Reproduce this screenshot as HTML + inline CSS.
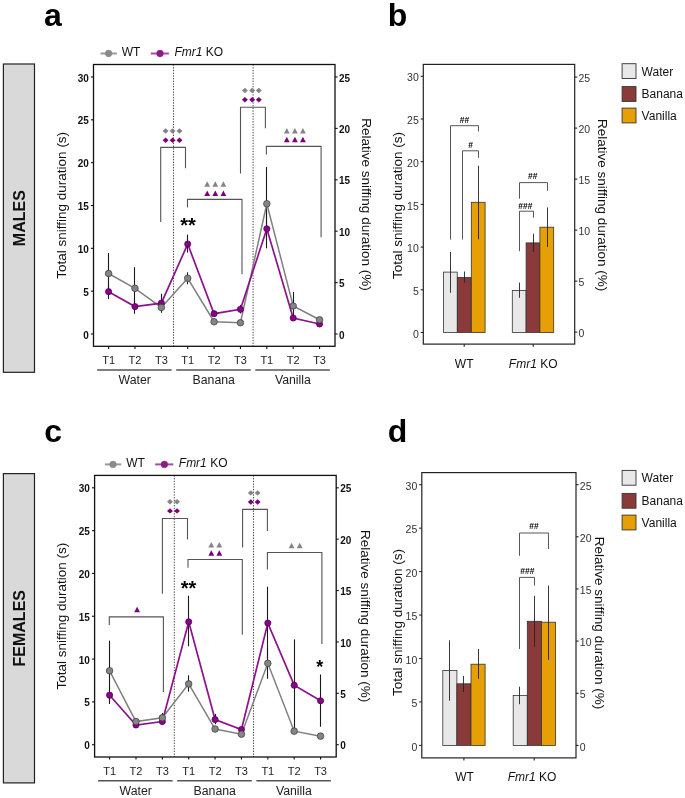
<!DOCTYPE html>
<html><head><meta charset="utf-8"><style>
html,body{margin:0;padding:0;background:#fff;}
body{width:685px;height:798px;overflow:hidden;}
svg{display:block;font-family:"Liberation Sans", sans-serif;will-change:transform;}
</style></head><body>
<svg width="685" height="798" viewBox="0 0 685 798" font-family='"Liberation Sans", sans-serif'>
<rect width="685" height="798" fill="#fff"/>
<rect x="3.40" y="64.00" width="31.10" height="308.30" fill="#d9d9d9" stroke="#222" stroke-width="1.2"/>
<text x="0" y="0" transform="translate(25.1,218.15) rotate(-90)" font-size="16" font-weight="bold" text-anchor="middle" fill="#111">MALES</text>
<rect x="3.40" y="473.60" width="31.10" height="309.30" fill="#d9d9d9" stroke="#222" stroke-width="1.2"/>
<text x="0" y="0" transform="translate(25.1,628.25) rotate(-90)" font-size="16" font-weight="bold" text-anchor="middle" fill="#111">FEMALES</text>
<text x="43.90" y="26.20" font-size="32" text-anchor="start" font-weight="bold" font-style="normal" fill="#000" >a</text>
<text x="387.80" y="26.00" font-size="32" text-anchor="start" font-weight="bold" font-style="normal" fill="#000" >b</text>
<text x="44.20" y="441.70" font-size="32" text-anchor="start" font-weight="bold" font-style="normal" fill="#000" >c</text>
<text x="387.70" y="441.70" font-size="32" text-anchor="start" font-weight="bold" font-style="normal" fill="#000" >d</text>
<line x1="173.50" y1="64.50" x2="173.50" y2="346.30" stroke="#444" stroke-width="1" stroke-dasharray="1.3 1.4"/>
<line x1="253.10" y1="64.50" x2="253.10" y2="346.30" stroke="#444" stroke-width="1" stroke-dasharray="1.3 1.4"/>
<path d="M160.70 222.00V147.40H185.50V168.30" fill="none" stroke="#555" stroke-width="1.1"/>
<path d="M165.60 128.30L168.57 131.00L165.60 133.70L162.63 131.00Z" fill="#858585"/>
<path d="M172.60 128.30L175.57 131.00L172.60 133.70L169.63 131.00Z" fill="#858585"/>
<path d="M179.50 128.30L182.47 131.00L179.50 133.70L176.53 131.00Z" fill="#858585"/>
<path d="M165.60 137.60L168.57 140.30L165.60 143.00L162.63 140.30Z" fill="#7a007a"/>
<path d="M172.60 137.60L175.57 140.30L172.60 143.00L169.63 140.30Z" fill="#7a007a"/>
<path d="M179.50 137.60L182.47 140.30L179.50 143.00L176.53 140.30Z" fill="#7a007a"/>
<path d="M240.50 173.40V107.30H265.40V128.20" fill="none" stroke="#555" stroke-width="1.1"/>
<path d="M244.90 87.80L247.87 90.50L244.90 93.20L241.93 90.50Z" fill="#858585"/>
<path d="M252.20 87.80L255.17 90.50L252.20 93.20L249.23 90.50Z" fill="#858585"/>
<path d="M258.80 87.80L261.77 90.50L258.80 93.20L255.83 90.50Z" fill="#858585"/>
<path d="M244.90 97.00L247.87 99.70L244.90 102.40L241.93 99.70Z" fill="#7a007a"/>
<path d="M252.20 97.00L255.17 99.70L252.20 102.40L249.23 99.70Z" fill="#7a007a"/>
<path d="M258.80 97.00L261.77 99.70L258.80 102.40L255.83 99.70Z" fill="#7a007a"/>
<path d="M187.50 207.40V199.40H242.00V274.20" fill="none" stroke="#555" stroke-width="1.1"/>
<path d="M207.20 181.35L210.10 186.85L204.30 186.85Z" fill="#858585"/>
<path d="M215.30 181.35L218.20 186.85L212.40 186.85Z" fill="#858585"/>
<path d="M223.40 181.35L226.30 186.85L220.50 186.85Z" fill="#858585"/>
<path d="M207.20 190.55L210.10 196.05L204.30 196.05Z" fill="#7a007a"/>
<path d="M215.30 190.55L218.20 196.05L212.40 196.05Z" fill="#7a007a"/>
<path d="M223.40 190.55L226.30 196.05L220.50 196.05Z" fill="#7a007a"/>
<path d="M266.40 154.50V146.40H321.10V237.20" fill="none" stroke="#555" stroke-width="1.1"/>
<path d="M286.80 128.05L289.70 133.55L283.90 133.55Z" fill="#858585"/>
<path d="M294.90 128.05L297.80 133.55L292.00 133.55Z" fill="#858585"/>
<path d="M302.90 128.05L305.80 133.55L300.00 133.55Z" fill="#858585"/>
<path d="M286.80 136.85L289.70 142.35L283.90 142.35Z" fill="#7a007a"/>
<path d="M294.90 136.85L297.80 142.35L292.00 142.35Z" fill="#7a007a"/>
<path d="M302.90 136.85L305.80 142.35L300.00 142.35Z" fill="#7a007a"/>
<line x1="108.50" y1="292.88" x2="108.50" y2="253.04" stroke="#1a1a1a" stroke-width="1.1" />
<line x1="134.50" y1="309.16" x2="134.50" y2="267.18" stroke="#1a1a1a" stroke-width="1.1" />
<line x1="161.50" y1="312.58" x2="161.50" y2="302.30" stroke="#1a1a1a" stroke-width="1.1" />
<line x1="187.50" y1="284.31" x2="187.50" y2="272.32" stroke="#1a1a1a" stroke-width="1.1" />
<line x1="266.50" y1="239.76" x2="266.50" y2="166.94" stroke="#1a1a1a" stroke-width="1.1" />
<line x1="293.50" y1="318.58" x2="293.50" y2="292.02" stroke="#1a1a1a" stroke-width="1.1" />
<line x1="108.50" y1="299.13" x2="108.50" y2="284.31" stroke="#1a1a1a" stroke-width="1.1" />
<line x1="134.50" y1="313.78" x2="134.50" y2="299.73" stroke="#1a1a1a" stroke-width="1.1" />
<line x1="161.50" y1="312.58" x2="161.50" y2="293.74" stroke="#1a1a1a" stroke-width="1.1" />
<line x1="187.50" y1="252.61" x2="187.50" y2="234.62" stroke="#1a1a1a" stroke-width="1.1" />
<line x1="240.50" y1="313.44" x2="240.50" y2="304.87" stroke="#1a1a1a" stroke-width="1.1" />
<line x1="266.50" y1="248.33" x2="266.50" y2="209.78" stroke="#1a1a1a" stroke-width="1.1" />
<polyline points="108.60,273.52 134.97,288.34 161.34,307.44 187.71,278.31 214.08,321.75 240.45,322.78 266.82,203.78 293.19,305.99 319.56,319.78" fill="none" stroke="#808080" stroke-width="1.5"/>
<polyline points="108.60,291.68 134.97,306.59 161.34,303.16 187.71,244.05 214.08,313.70 240.45,309.33 266.82,228.80 293.19,317.98 319.56,323.98" fill="none" stroke="#8e128e" stroke-width="1.7"/>
<circle cx="108.60" cy="291.68" r="3.1" fill="#8a008a" stroke="#4a004a" stroke-width="0.7"/>
<circle cx="134.97" cy="306.59" r="3.1" fill="#8a008a" stroke="#4a004a" stroke-width="0.7"/>
<circle cx="161.34" cy="303.16" r="3.1" fill="#8a008a" stroke="#4a004a" stroke-width="0.7"/>
<circle cx="187.71" cy="244.05" r="3.1" fill="#8a008a" stroke="#4a004a" stroke-width="0.7"/>
<circle cx="214.08" cy="313.70" r="3.1" fill="#8a008a" stroke="#4a004a" stroke-width="0.7"/>
<circle cx="240.45" cy="309.33" r="3.1" fill="#8a008a" stroke="#4a004a" stroke-width="0.7"/>
<circle cx="266.82" cy="228.80" r="3.1" fill="#8a008a" stroke="#4a004a" stroke-width="0.7"/>
<circle cx="293.19" cy="317.98" r="3.1" fill="#8a008a" stroke="#4a004a" stroke-width="0.7"/>
<circle cx="319.56" cy="323.98" r="3.1" fill="#8a008a" stroke="#4a004a" stroke-width="0.7"/>
<circle cx="108.60" cy="273.52" r="3.3" fill="#858585" stroke="#3a3a3a" stroke-width="0.7"/>
<circle cx="134.97" cy="288.34" r="3.3" fill="#858585" stroke="#3a3a3a" stroke-width="0.7"/>
<circle cx="161.34" cy="307.44" r="3.3" fill="#858585" stroke="#3a3a3a" stroke-width="0.7"/>
<circle cx="187.71" cy="278.31" r="3.3" fill="#858585" stroke="#3a3a3a" stroke-width="0.7"/>
<circle cx="214.08" cy="321.75" r="3.3" fill="#858585" stroke="#3a3a3a" stroke-width="0.7"/>
<circle cx="240.45" cy="322.78" r="3.3" fill="#858585" stroke="#3a3a3a" stroke-width="0.7"/>
<circle cx="266.82" cy="203.78" r="3.3" fill="#858585" stroke="#3a3a3a" stroke-width="0.7"/>
<circle cx="293.19" cy="305.99" r="3.3" fill="#858585" stroke="#3a3a3a" stroke-width="0.7"/>
<circle cx="319.56" cy="319.78" r="3.3" fill="#858585" stroke="#3a3a3a" stroke-width="0.7"/>
<text x="188.00" y="232.30" font-size="20" text-anchor="middle" font-weight="bold" font-style="normal" fill="#000" >**</text>
<rect x="93.50" y="64.50" width="241.50" height="281.80" fill="none" stroke="#111" stroke-width="1.3"/>
<line x1="90.90" y1="334.00" x2="93.50" y2="334.00" stroke="#111" stroke-width="1.1" />
<text x="88.80" y="338.60" font-size="10" text-anchor="end" font-weight="bold" font-style="normal" fill="#111" >0</text>
<line x1="90.90" y1="291.17" x2="93.50" y2="291.17" stroke="#111" stroke-width="1.1" />
<text x="88.80" y="295.77" font-size="10" text-anchor="end" font-weight="bold" font-style="normal" fill="#111" >5</text>
<line x1="90.90" y1="248.33" x2="93.50" y2="248.33" stroke="#111" stroke-width="1.1" />
<text x="88.80" y="252.93" font-size="10" text-anchor="end" font-weight="bold" font-style="normal" fill="#111" >10</text>
<line x1="90.90" y1="205.50" x2="93.50" y2="205.50" stroke="#111" stroke-width="1.1" />
<text x="88.80" y="210.09" font-size="10" text-anchor="end" font-weight="bold" font-style="normal" fill="#111" >15</text>
<line x1="90.90" y1="162.66" x2="93.50" y2="162.66" stroke="#111" stroke-width="1.1" />
<text x="88.80" y="167.26" font-size="10" text-anchor="end" font-weight="bold" font-style="normal" fill="#111" >20</text>
<line x1="90.90" y1="119.82" x2="93.50" y2="119.82" stroke="#111" stroke-width="1.1" />
<text x="88.80" y="124.42" font-size="10" text-anchor="end" font-weight="bold" font-style="normal" fill="#111" >25</text>
<line x1="90.90" y1="76.99" x2="93.50" y2="76.99" stroke="#111" stroke-width="1.1" />
<text x="88.80" y="81.59" font-size="10" text-anchor="end" font-weight="bold" font-style="normal" fill="#111" >30</text>
<line x1="335.00" y1="334.00" x2="337.60" y2="334.00" stroke="#111" stroke-width="1.1" />
<text x="339.00" y="338.60" font-size="10" text-anchor="start" font-weight="bold" font-style="normal" fill="#111" >0</text>
<line x1="335.00" y1="282.60" x2="337.60" y2="282.60" stroke="#111" stroke-width="1.1" />
<text x="339.00" y="287.20" font-size="10" text-anchor="start" font-weight="bold" font-style="normal" fill="#111" >5</text>
<line x1="335.00" y1="231.20" x2="337.60" y2="231.20" stroke="#111" stroke-width="1.1" />
<text x="339.00" y="235.80" font-size="10" text-anchor="start" font-weight="bold" font-style="normal" fill="#111" >10</text>
<line x1="335.00" y1="179.79" x2="337.60" y2="179.79" stroke="#111" stroke-width="1.1" />
<text x="339.00" y="184.39" font-size="10" text-anchor="start" font-weight="bold" font-style="normal" fill="#111" >15</text>
<line x1="335.00" y1="128.39" x2="337.60" y2="128.39" stroke="#111" stroke-width="1.1" />
<text x="339.00" y="132.99" font-size="10" text-anchor="start" font-weight="bold" font-style="normal" fill="#111" >20</text>
<line x1="335.00" y1="76.99" x2="337.60" y2="76.99" stroke="#111" stroke-width="1.1" />
<text x="339.00" y="81.59" font-size="10" text-anchor="start" font-weight="bold" font-style="normal" fill="#111" >25</text>
<line x1="108.60" y1="346.30" x2="108.60" y2="348.90" stroke="#111" stroke-width="1.1" />
<text x="108.60" y="363.90" font-size="11" text-anchor="middle" font-weight="normal" font-style="normal" fill="#222" >T1</text>
<line x1="134.97" y1="346.30" x2="134.97" y2="348.90" stroke="#111" stroke-width="1.1" />
<text x="134.97" y="363.90" font-size="11" text-anchor="middle" font-weight="normal" font-style="normal" fill="#222" >T2</text>
<line x1="161.34" y1="346.30" x2="161.34" y2="348.90" stroke="#111" stroke-width="1.1" />
<text x="161.34" y="363.90" font-size="11" text-anchor="middle" font-weight="normal" font-style="normal" fill="#222" >T3</text>
<line x1="187.71" y1="346.30" x2="187.71" y2="348.90" stroke="#111" stroke-width="1.1" />
<text x="187.71" y="363.90" font-size="11" text-anchor="middle" font-weight="normal" font-style="normal" fill="#222" >T1</text>
<line x1="214.08" y1="346.30" x2="214.08" y2="348.90" stroke="#111" stroke-width="1.1" />
<text x="214.08" y="363.90" font-size="11" text-anchor="middle" font-weight="normal" font-style="normal" fill="#222" >T2</text>
<line x1="240.45" y1="346.30" x2="240.45" y2="348.90" stroke="#111" stroke-width="1.1" />
<text x="240.45" y="363.90" font-size="11" text-anchor="middle" font-weight="normal" font-style="normal" fill="#222" >T3</text>
<line x1="266.82" y1="346.30" x2="266.82" y2="348.90" stroke="#111" stroke-width="1.1" />
<text x="266.82" y="363.90" font-size="11" text-anchor="middle" font-weight="normal" font-style="normal" fill="#222" >T1</text>
<line x1="293.19" y1="346.30" x2="293.19" y2="348.90" stroke="#111" stroke-width="1.1" />
<text x="293.19" y="363.90" font-size="11" text-anchor="middle" font-weight="normal" font-style="normal" fill="#222" >T2</text>
<line x1="319.56" y1="346.30" x2="319.56" y2="348.90" stroke="#111" stroke-width="1.1" />
<text x="319.56" y="363.90" font-size="11" text-anchor="middle" font-weight="normal" font-style="normal" fill="#222" >T3</text>
<line x1="97.10" y1="370.10" x2="171.64" y2="370.10" stroke="#555" stroke-width="1.5" />
<text x="134.67" y="384.30" font-size="12.3" text-anchor="middle" font-weight="normal" font-style="normal" fill="#222" >Water</text>
<line x1="176.21" y1="370.10" x2="250.75" y2="370.10" stroke="#555" stroke-width="1.5" />
<text x="213.78" y="384.30" font-size="12.3" text-anchor="middle" font-weight="normal" font-style="normal" fill="#222" >Banana</text>
<line x1="255.32" y1="370.10" x2="329.86" y2="370.10" stroke="#555" stroke-width="1.5" />
<text x="292.89" y="384.30" font-size="12.3" text-anchor="middle" font-weight="normal" font-style="normal" fill="#222" >Vanilla</text>
<text x="0" y="0" transform="translate(65.90,205.30) rotate(-90)" font-size="13.5" text-anchor="middle" fill="#111">Total sniffing duration (s)</text>
<text x="0" y="0" transform="translate(361.60,204.50) rotate(90)" font-size="13.5" text-anchor="middle" fill="#111">Relative sniffing duration (%)</text>
<line x1="100.50" y1="53.50" x2="116.90" y2="53.50" stroke="#9a9a9a" stroke-width="2" />
<circle cx="108.60" cy="53.50" r="3.4" fill="#8a8a8a" stroke="#8a8a8a" stroke-width="0.3"/>
<text x="121.80" y="55.90" font-size="12" text-anchor="start" font-weight="normal" font-style="normal" fill="#111" >WT</text>
<line x1="150.80" y1="53.50" x2="168.90" y2="53.50" stroke="#a848a8" stroke-width="2" />
<circle cx="160.00" cy="53.50" r="3.4" fill="#8b1a8b" stroke="#8b1a8b" stroke-width="0.3"/>
<text x="174.40" y="55.90" font-size="12" fill="#111"><tspan font-style="italic">Fmr1</tspan> KO</text>
<line x1="174.30" y1="475.40" x2="174.30" y2="757.00" stroke="#444" stroke-width="1" stroke-dasharray="1.3 1.4"/>
<line x1="253.50" y1="475.40" x2="253.50" y2="757.00" stroke="#444" stroke-width="1" stroke-dasharray="1.3 1.4"/>
<path d="M109.30 625.10V616.90H163.40V692.00" fill="none" stroke="#555" stroke-width="1.1"/>
<path d="M137.10 606.85L140.00 612.35L134.20 612.35Z" fill="#7a007a"/>
<path d="M162.40 593.80V518.50H187.50V539.60" fill="none" stroke="#555" stroke-width="1.1"/>
<path d="M170.00 499.00L172.97 501.70L170.00 504.40L167.03 501.70Z" fill="#858585"/>
<path d="M177.00 499.00L179.97 501.70L177.00 504.40L174.03 501.70Z" fill="#858585"/>
<path d="M170.00 508.20L172.97 510.90L170.00 513.60L167.03 510.90Z" fill="#7a007a"/>
<path d="M177.00 508.20L179.97 510.90L177.00 513.60L174.03 510.90Z" fill="#7a007a"/>
<path d="M188.00 567.70V559.50H242.30V634.70" fill="none" stroke="#555" stroke-width="1.1"/>
<path d="M211.30 541.95L214.20 547.45L208.40 547.45Z" fill="#858585"/>
<path d="M219.30 541.95L222.20 547.45L216.40 547.45Z" fill="#858585"/>
<path d="M211.30 550.35L214.20 555.85L208.40 555.85Z" fill="#7a007a"/>
<path d="M219.30 550.35L222.20 555.85L216.40 555.85Z" fill="#7a007a"/>
<path d="M242.60 547.50V509.40H267.40V530.90" fill="none" stroke="#555" stroke-width="1.1"/>
<path d="M250.80 490.20L253.77 492.90L250.80 495.60L247.83 492.90Z" fill="#858585"/>
<path d="M257.60 490.20L260.57 492.90L257.60 495.60L254.63 492.90Z" fill="#858585"/>
<path d="M250.80 499.30L253.77 502.00L250.80 504.70L247.83 502.00Z" fill="#7a007a"/>
<path d="M257.60 499.30L260.57 502.00L257.60 504.70L254.63 502.00Z" fill="#7a007a"/>
<path d="M267.40 569.60V552.50H321.90V644.00" fill="none" stroke="#555" stroke-width="1.1"/>
<path d="M291.60 542.75L294.50 548.25L288.70 548.25Z" fill="#858585"/>
<path d="M299.70 542.75L302.60 548.25L296.80 548.25Z" fill="#858585"/>
<line x1="109.50" y1="701.88" x2="109.50" y2="640.66" stroke="#1a1a1a" stroke-width="1.1" />
<line x1="135.50" y1="725.01" x2="135.50" y2="718.15" stroke="#1a1a1a" stroke-width="1.1" />
<line x1="162.50" y1="722.44" x2="162.50" y2="713.02" stroke="#1a1a1a" stroke-width="1.1" />
<line x1="188.50" y1="691.61" x2="188.50" y2="675.34" stroke="#1a1a1a" stroke-width="1.1" />
<line x1="267.50" y1="678.76" x2="267.50" y2="647.94" stroke="#1a1a1a" stroke-width="1.1" />
<line x1="109.50" y1="704.03" x2="109.50" y2="686.47" stroke="#1a1a1a" stroke-width="1.1" />
<line x1="188.50" y1="646.23" x2="188.50" y2="595.70" stroke="#1a1a1a" stroke-width="1.1" />
<line x1="215.50" y1="724.15" x2="215.50" y2="713.87" stroke="#1a1a1a" stroke-width="1.1" />
<line x1="267.50" y1="659.07" x2="267.50" y2="586.71" stroke="#1a1a1a" stroke-width="1.1" />
<line x1="294.50" y1="731.00" x2="294.50" y2="639.38" stroke="#1a1a1a" stroke-width="1.1" />
<line x1="320.50" y1="726.72" x2="320.50" y2="674.48" stroke="#1a1a1a" stroke-width="1.1" />
<polyline points="109.60,670.80 135.97,721.58 162.34,717.81 188.71,683.90 215.08,729.03 241.45,734.17 267.82,663.35 294.19,731.17 320.56,736.14" fill="none" stroke="#808080" stroke-width="1.5"/>
<polyline points="109.60,695.21 135.97,725.01 162.34,721.58 188.71,621.82 215.08,719.52 241.45,729.54 267.82,623.11 294.19,685.19 320.56,700.77" fill="none" stroke="#8e128e" stroke-width="1.7"/>
<circle cx="109.60" cy="695.21" r="3.1" fill="#8a008a" stroke="#4a004a" stroke-width="0.7"/>
<circle cx="135.97" cy="725.01" r="3.1" fill="#8a008a" stroke="#4a004a" stroke-width="0.7"/>
<circle cx="162.34" cy="721.58" r="3.1" fill="#8a008a" stroke="#4a004a" stroke-width="0.7"/>
<circle cx="188.71" cy="621.82" r="3.1" fill="#8a008a" stroke="#4a004a" stroke-width="0.7"/>
<circle cx="215.08" cy="719.52" r="3.1" fill="#8a008a" stroke="#4a004a" stroke-width="0.7"/>
<circle cx="241.45" cy="729.54" r="3.1" fill="#8a008a" stroke="#4a004a" stroke-width="0.7"/>
<circle cx="267.82" cy="623.11" r="3.1" fill="#8a008a" stroke="#4a004a" stroke-width="0.7"/>
<circle cx="294.19" cy="685.19" r="3.1" fill="#8a008a" stroke="#4a004a" stroke-width="0.7"/>
<circle cx="320.56" cy="700.77" r="3.1" fill="#8a008a" stroke="#4a004a" stroke-width="0.7"/>
<circle cx="109.60" cy="670.80" r="3.3" fill="#858585" stroke="#3a3a3a" stroke-width="0.7"/>
<circle cx="135.97" cy="721.58" r="3.3" fill="#858585" stroke="#3a3a3a" stroke-width="0.7"/>
<circle cx="162.34" cy="717.81" r="3.3" fill="#858585" stroke="#3a3a3a" stroke-width="0.7"/>
<circle cx="188.71" cy="683.90" r="3.3" fill="#858585" stroke="#3a3a3a" stroke-width="0.7"/>
<circle cx="215.08" cy="729.03" r="3.3" fill="#858585" stroke="#3a3a3a" stroke-width="0.7"/>
<circle cx="241.45" cy="734.17" r="3.3" fill="#858585" stroke="#3a3a3a" stroke-width="0.7"/>
<circle cx="267.82" cy="663.35" r="3.3" fill="#858585" stroke="#3a3a3a" stroke-width="0.7"/>
<circle cx="294.19" cy="731.17" r="3.3" fill="#858585" stroke="#3a3a3a" stroke-width="0.7"/>
<circle cx="320.56" cy="736.14" r="3.3" fill="#858585" stroke="#3a3a3a" stroke-width="0.7"/>
<text x="188.60" y="595.20" font-size="20" text-anchor="middle" font-weight="bold" font-style="normal" fill="#000" >**</text>
<text x="319.70" y="673.40" font-size="18" text-anchor="middle" font-weight="bold" font-style="normal" fill="#000" >*</text>
<rect x="94.60" y="475.40" width="241.60" height="281.60" fill="none" stroke="#111" stroke-width="1.3"/>
<line x1="92.00" y1="744.70" x2="94.60" y2="744.70" stroke="#111" stroke-width="1.1" />
<text x="89.90" y="749.30" font-size="10" text-anchor="end" font-weight="bold" font-style="normal" fill="#111" >0</text>
<line x1="92.00" y1="701.88" x2="94.60" y2="701.88" stroke="#111" stroke-width="1.1" />
<text x="89.90" y="706.49" font-size="10" text-anchor="end" font-weight="bold" font-style="normal" fill="#111" >5</text>
<line x1="92.00" y1="659.07" x2="94.60" y2="659.07" stroke="#111" stroke-width="1.1" />
<text x="89.90" y="663.67" font-size="10" text-anchor="end" font-weight="bold" font-style="normal" fill="#111" >10</text>
<line x1="92.00" y1="616.25" x2="94.60" y2="616.25" stroke="#111" stroke-width="1.1" />
<text x="89.90" y="620.86" font-size="10" text-anchor="end" font-weight="bold" font-style="normal" fill="#111" >15</text>
<line x1="92.00" y1="573.44" x2="94.60" y2="573.44" stroke="#111" stroke-width="1.1" />
<text x="89.90" y="578.04" font-size="10" text-anchor="end" font-weight="bold" font-style="normal" fill="#111" >20</text>
<line x1="92.00" y1="530.62" x2="94.60" y2="530.62" stroke="#111" stroke-width="1.1" />
<text x="89.90" y="535.23" font-size="10" text-anchor="end" font-weight="bold" font-style="normal" fill="#111" >25</text>
<line x1="92.00" y1="487.81" x2="94.60" y2="487.81" stroke="#111" stroke-width="1.1" />
<text x="89.90" y="492.41" font-size="10" text-anchor="end" font-weight="bold" font-style="normal" fill="#111" >30</text>
<line x1="336.20" y1="744.70" x2="338.80" y2="744.70" stroke="#111" stroke-width="1.1" />
<text x="340.20" y="749.30" font-size="10" text-anchor="start" font-weight="bold" font-style="normal" fill="#111" >0</text>
<line x1="336.20" y1="693.32" x2="338.80" y2="693.32" stroke="#111" stroke-width="1.1" />
<text x="340.20" y="697.92" font-size="10" text-anchor="start" font-weight="bold" font-style="normal" fill="#111" >5</text>
<line x1="336.20" y1="641.94" x2="338.80" y2="641.94" stroke="#111" stroke-width="1.1" />
<text x="340.20" y="646.54" font-size="10" text-anchor="start" font-weight="bold" font-style="normal" fill="#111" >10</text>
<line x1="336.20" y1="590.57" x2="338.80" y2="590.57" stroke="#111" stroke-width="1.1" />
<text x="340.20" y="595.17" font-size="10" text-anchor="start" font-weight="bold" font-style="normal" fill="#111" >15</text>
<line x1="336.20" y1="539.19" x2="338.80" y2="539.19" stroke="#111" stroke-width="1.1" />
<text x="340.20" y="543.79" font-size="10" text-anchor="start" font-weight="bold" font-style="normal" fill="#111" >20</text>
<line x1="336.20" y1="487.81" x2="338.80" y2="487.81" stroke="#111" stroke-width="1.1" />
<text x="340.20" y="492.41" font-size="10" text-anchor="start" font-weight="bold" font-style="normal" fill="#111" >25</text>
<line x1="109.60" y1="757.00" x2="109.60" y2="759.60" stroke="#111" stroke-width="1.1" />
<text x="109.60" y="774.60" font-size="11" text-anchor="middle" font-weight="normal" font-style="normal" fill="#222" >T1</text>
<line x1="135.97" y1="757.00" x2="135.97" y2="759.60" stroke="#111" stroke-width="1.1" />
<text x="135.97" y="774.60" font-size="11" text-anchor="middle" font-weight="normal" font-style="normal" fill="#222" >T2</text>
<line x1="162.34" y1="757.00" x2="162.34" y2="759.60" stroke="#111" stroke-width="1.1" />
<text x="162.34" y="774.60" font-size="11" text-anchor="middle" font-weight="normal" font-style="normal" fill="#222" >T3</text>
<line x1="188.71" y1="757.00" x2="188.71" y2="759.60" stroke="#111" stroke-width="1.1" />
<text x="188.71" y="774.60" font-size="11" text-anchor="middle" font-weight="normal" font-style="normal" fill="#222" >T1</text>
<line x1="215.08" y1="757.00" x2="215.08" y2="759.60" stroke="#111" stroke-width="1.1" />
<text x="215.08" y="774.60" font-size="11" text-anchor="middle" font-weight="normal" font-style="normal" fill="#222" >T2</text>
<line x1="241.45" y1="757.00" x2="241.45" y2="759.60" stroke="#111" stroke-width="1.1" />
<text x="241.45" y="774.60" font-size="11" text-anchor="middle" font-weight="normal" font-style="normal" fill="#222" >T3</text>
<line x1="267.82" y1="757.00" x2="267.82" y2="759.60" stroke="#111" stroke-width="1.1" />
<text x="267.82" y="774.60" font-size="11" text-anchor="middle" font-weight="normal" font-style="normal" fill="#222" >T1</text>
<line x1="294.19" y1="757.00" x2="294.19" y2="759.60" stroke="#111" stroke-width="1.1" />
<text x="294.19" y="774.60" font-size="11" text-anchor="middle" font-weight="normal" font-style="normal" fill="#222" >T2</text>
<line x1="320.56" y1="757.00" x2="320.56" y2="759.60" stroke="#111" stroke-width="1.1" />
<text x="320.56" y="774.60" font-size="11" text-anchor="middle" font-weight="normal" font-style="normal" fill="#222" >T3</text>
<line x1="98.10" y1="780.80" x2="172.64" y2="780.80" stroke="#555" stroke-width="1.5" />
<text x="135.67" y="795.00" font-size="12.3" text-anchor="middle" font-weight="normal" font-style="normal" fill="#222" >Water</text>
<line x1="177.21" y1="780.80" x2="251.75" y2="780.80" stroke="#555" stroke-width="1.5" />
<text x="214.78" y="795.00" font-size="12.3" text-anchor="middle" font-weight="normal" font-style="normal" fill="#222" >Banana</text>
<line x1="256.32" y1="780.80" x2="330.86" y2="780.80" stroke="#555" stroke-width="1.5" />
<text x="293.89" y="795.00" font-size="12.3" text-anchor="middle" font-weight="normal" font-style="normal" fill="#222" >Vanilla</text>
<text x="0" y="0" transform="translate(66.00,616.20) rotate(-90)" font-size="13.5" text-anchor="middle" fill="#111">Total sniffing duration (s)</text>
<text x="0" y="0" transform="translate(361.20,616.20) rotate(90)" font-size="13.5" text-anchor="middle" fill="#111">Relative sniffing duration (%)</text>
<line x1="104.90" y1="464.40" x2="121.30" y2="464.40" stroke="#9a9a9a" stroke-width="2" />
<circle cx="113.00" cy="464.40" r="3.4" fill="#8a8a8a" stroke="#8a8a8a" stroke-width="0.3"/>
<text x="126.20" y="466.80" font-size="12" text-anchor="start" font-weight="normal" font-style="normal" fill="#111" >WT</text>
<line x1="155.20" y1="464.40" x2="173.30" y2="464.40" stroke="#a848a8" stroke-width="2" />
<circle cx="164.40" cy="464.40" r="3.4" fill="#8b1a8b" stroke="#8b1a8b" stroke-width="0.3"/>
<text x="178.80" y="466.80" font-size="12" fill="#111"><tspan font-style="italic">Fmr1</tspan> KO</text>
<rect x="443.40" y="272.10" width="13.80" height="60.40" fill="#e8e8e8" stroke="#333" stroke-width="0.8"/>
<rect x="457.40" y="277.40" width="13.80" height="55.10" fill="#8b3a3a" stroke="#333" stroke-width="0.8"/>
<rect x="471.30" y="202.30" width="13.80" height="130.20" fill="#e6a005" stroke="#333" stroke-width="0.8"/>
<rect x="512.30" y="290.50" width="13.80" height="42.00" fill="#e8e8e8" stroke="#333" stroke-width="0.8"/>
<rect x="526.10" y="242.90" width="13.80" height="89.60" fill="#8b3a3a" stroke="#333" stroke-width="0.8"/>
<rect x="539.90" y="227.20" width="13.80" height="105.30" fill="#e6a005" stroke="#333" stroke-width="0.8"/>
<line x1="450.50" y1="252.00" x2="450.50" y2="292.80" stroke="#222" stroke-width="0.9" />
<line x1="464.50" y1="271.50" x2="464.50" y2="282.60" stroke="#222" stroke-width="0.9" />
<line x1="478.50" y1="165.70" x2="478.50" y2="239.20" stroke="#222" stroke-width="0.9" />
<line x1="519.50" y1="282.60" x2="519.50" y2="297.80" stroke="#222" stroke-width="0.9" />
<line x1="533.50" y1="233.70" x2="533.50" y2="252.00" stroke="#222" stroke-width="0.9" />
<line x1="547.50" y1="207.40" x2="547.50" y2="246.90" stroke="#222" stroke-width="0.9" />
<path d="M450.50 239.60V125.70H478.50V131.50" fill="none" stroke="#444" stroke-width="0.9"/>
<text x="464.40" y="123.10" font-size="9.6" text-anchor="middle" font-weight="bold" font-style="normal" fill="#000" textLength="9.45" lengthAdjust="spacingAndGlyphs">##</text>
<path d="M462.50 239.60V150.80H478.50V157.80" fill="none" stroke="#444" stroke-width="0.9"/>
<text x="470.50" y="147.90" font-size="9.6" text-anchor="middle" font-weight="bold" font-style="normal" fill="#000" textLength="4.73" lengthAdjust="spacingAndGlyphs">#</text>
<path d="M519.50 198.70V182.60H547.50V190.80" fill="none" stroke="#444" stroke-width="0.9"/>
<text x="532.70" y="179.40" font-size="9.6" text-anchor="middle" font-weight="bold" font-style="normal" fill="#000" textLength="9.45" lengthAdjust="spacingAndGlyphs">##</text>
<path d="M519.50 251.20V211.20H533.50V217.70" fill="none" stroke="#444" stroke-width="0.9"/>
<text x="525.40" y="208.60" font-size="9.6" text-anchor="middle" font-weight="bold" font-style="normal" fill="#000" textLength="14.18" lengthAdjust="spacingAndGlyphs">###</text>
<rect x="423.30" y="64.40" width="151.40" height="279.70" fill="none" stroke="#222" stroke-width="1.2"/>
<line x1="420.70" y1="332.50" x2="423.30" y2="332.50" stroke="#222" stroke-width="1.1" />
<text x="418.80" y="337.60" font-size="10.5" text-anchor="end" font-weight="normal" font-style="normal" fill="#333" >0</text>
<line x1="420.70" y1="289.80" x2="423.30" y2="289.80" stroke="#222" stroke-width="1.1" />
<text x="418.80" y="294.90" font-size="10.5" text-anchor="end" font-weight="normal" font-style="normal" fill="#333" >5</text>
<line x1="420.70" y1="247.10" x2="423.30" y2="247.10" stroke="#222" stroke-width="1.1" />
<text x="418.80" y="252.20" font-size="10.5" text-anchor="end" font-weight="normal" font-style="normal" fill="#333" >10</text>
<line x1="420.70" y1="204.40" x2="423.30" y2="204.40" stroke="#222" stroke-width="1.1" />
<text x="418.80" y="209.50" font-size="10.5" text-anchor="end" font-weight="normal" font-style="normal" fill="#333" >15</text>
<line x1="420.70" y1="161.70" x2="423.30" y2="161.70" stroke="#222" stroke-width="1.1" />
<text x="418.80" y="166.80" font-size="10.5" text-anchor="end" font-weight="normal" font-style="normal" fill="#333" >20</text>
<line x1="420.70" y1="119.00" x2="423.30" y2="119.00" stroke="#222" stroke-width="1.1" />
<text x="418.80" y="124.10" font-size="10.5" text-anchor="end" font-weight="normal" font-style="normal" fill="#333" >25</text>
<line x1="420.70" y1="76.30" x2="423.30" y2="76.30" stroke="#222" stroke-width="1.1" />
<text x="418.80" y="81.40" font-size="10.5" text-anchor="end" font-weight="normal" font-style="normal" fill="#333" >30</text>
<line x1="574.70" y1="332.10" x2="577.30" y2="332.10" stroke="#222" stroke-width="1.1" />
<text x="578.50" y="337.20" font-size="10.5" text-anchor="start" font-weight="normal" font-style="normal" fill="#333" >0</text>
<line x1="574.70" y1="281.10" x2="577.30" y2="281.10" stroke="#222" stroke-width="1.1" />
<text x="578.50" y="286.20" font-size="10.5" text-anchor="start" font-weight="normal" font-style="normal" fill="#333" >5</text>
<line x1="574.70" y1="230.10" x2="577.30" y2="230.10" stroke="#222" stroke-width="1.1" />
<text x="578.50" y="235.20" font-size="10.5" text-anchor="start" font-weight="normal" font-style="normal" fill="#333" >10</text>
<line x1="574.70" y1="179.10" x2="577.30" y2="179.10" stroke="#222" stroke-width="1.1" />
<text x="578.50" y="184.20" font-size="10.5" text-anchor="start" font-weight="normal" font-style="normal" fill="#333" >15</text>
<line x1="574.70" y1="128.10" x2="577.30" y2="128.10" stroke="#222" stroke-width="1.1" />
<text x="578.50" y="133.20" font-size="10.5" text-anchor="start" font-weight="normal" font-style="normal" fill="#333" >20</text>
<line x1="574.70" y1="77.10" x2="577.30" y2="77.10" stroke="#222" stroke-width="1.1" />
<text x="578.50" y="82.20" font-size="10.5" text-anchor="start" font-weight="normal" font-style="normal" fill="#333" >25</text>
<line x1="464.20" y1="344.10" x2="464.20" y2="346.70" stroke="#222" stroke-width="1.1" />
<line x1="533.20" y1="344.10" x2="533.20" y2="346.70" stroke="#222" stroke-width="1.1" />
<text x="464.20" y="367.60" font-size="12" text-anchor="middle" font-weight="normal" font-style="normal" fill="#111" >WT</text>
<text x="533.20" y="367.60" font-size="12" text-anchor="middle" fill="#111"><tspan font-style="italic">Fmr1</tspan> KO</text>
<text x="0" y="0" transform="translate(402.30,205.50) rotate(-90)" font-size="13.5" text-anchor="middle" fill="#111">Total sniffing duration (s)</text>
<text x="0" y="0" transform="translate(597.80,205.10) rotate(90)" font-size="13.5" text-anchor="middle" fill="#111">Relative sniffing duration (%)</text>
<rect x="622.10" y="63.70" width="13.90" height="14.80" fill="#e8e8e8" stroke="#333" stroke-width="0.9"/>
<text x="641.60" y="75.50" font-size="12" text-anchor="start" font-weight="normal" font-style="normal" fill="#111" >Water</text>
<rect x="622.10" y="86.60" width="13.90" height="14.80" fill="#8b3a3a" stroke="#333" stroke-width="0.9"/>
<text x="641.60" y="98.40" font-size="12" text-anchor="start" font-weight="normal" font-style="normal" fill="#111" >Banana</text>
<rect x="622.10" y="108.10" width="13.90" height="14.80" fill="#e6a005" stroke="#333" stroke-width="0.9"/>
<text x="641.60" y="119.90" font-size="12" text-anchor="start" font-weight="normal" font-style="normal" fill="#111" >Vanilla</text>
<rect x="442.80" y="670.40" width="14.10" height="75.00" fill="#e8e8e8" stroke="#333" stroke-width="0.8"/>
<rect x="456.90" y="683.80" width="14.10" height="61.60" fill="#8b3a3a" stroke="#333" stroke-width="0.8"/>
<rect x="471.00" y="664.20" width="14.10" height="81.20" fill="#e6a005" stroke="#333" stroke-width="0.8"/>
<rect x="513.20" y="695.50" width="14.10" height="49.90" fill="#e8e8e8" stroke="#333" stroke-width="0.8"/>
<rect x="527.30" y="621.30" width="14.10" height="124.10" fill="#8b3a3a" stroke="#333" stroke-width="0.8"/>
<rect x="541.40" y="622.20" width="14.10" height="123.20" fill="#e6a005" stroke="#333" stroke-width="0.8"/>
<line x1="449.50" y1="640.30" x2="449.50" y2="700.70" stroke="#222" stroke-width="0.9" />
<line x1="463.50" y1="675.90" x2="463.50" y2="692.00" stroke="#222" stroke-width="0.9" />
<line x1="478.50" y1="649.00" x2="478.50" y2="678.80" stroke="#222" stroke-width="0.9" />
<line x1="519.50" y1="686.70" x2="519.50" y2="704.20" stroke="#222" stroke-width="0.9" />
<line x1="534.50" y1="595.80" x2="534.50" y2="646.70" stroke="#222" stroke-width="0.9" />
<line x1="548.50" y1="585.50" x2="548.50" y2="659.90" stroke="#222" stroke-width="0.9" />
<path d="M519.50 555.80V533.00H548.50V549.00" fill="none" stroke="#444" stroke-width="0.9"/>
<text x="533.90" y="528.90" font-size="9.6" text-anchor="middle" font-weight="bold" font-style="normal" fill="#000" textLength="9.45" lengthAdjust="spacingAndGlyphs">##</text>
<path d="M519.50 649.00V577.40H534.50V585.50" fill="none" stroke="#444" stroke-width="0.9"/>
<text x="527.40" y="574.20" font-size="9.6" text-anchor="middle" font-weight="bold" font-style="normal" fill="#000" textLength="14.18" lengthAdjust="spacingAndGlyphs">###</text>
<rect x="421.80" y="472.60" width="154.20" height="285.30" fill="none" stroke="#222" stroke-width="1.2"/>
<line x1="419.20" y1="745.40" x2="421.80" y2="745.40" stroke="#222" stroke-width="1.1" />
<text x="417.30" y="750.50" font-size="10.5" text-anchor="end" font-weight="normal" font-style="normal" fill="#333" >0</text>
<line x1="419.20" y1="701.95" x2="421.80" y2="701.95" stroke="#222" stroke-width="1.1" />
<text x="417.30" y="707.05" font-size="10.5" text-anchor="end" font-weight="normal" font-style="normal" fill="#333" >5</text>
<line x1="419.20" y1="658.50" x2="421.80" y2="658.50" stroke="#222" stroke-width="1.1" />
<text x="417.30" y="663.60" font-size="10.5" text-anchor="end" font-weight="normal" font-style="normal" fill="#333" >10</text>
<line x1="419.20" y1="615.05" x2="421.80" y2="615.05" stroke="#222" stroke-width="1.1" />
<text x="417.30" y="620.15" font-size="10.5" text-anchor="end" font-weight="normal" font-style="normal" fill="#333" >15</text>
<line x1="419.20" y1="571.60" x2="421.80" y2="571.60" stroke="#222" stroke-width="1.1" />
<text x="417.30" y="576.70" font-size="10.5" text-anchor="end" font-weight="normal" font-style="normal" fill="#333" >20</text>
<line x1="419.20" y1="528.15" x2="421.80" y2="528.15" stroke="#222" stroke-width="1.1" />
<text x="417.30" y="533.25" font-size="10.5" text-anchor="end" font-weight="normal" font-style="normal" fill="#333" >25</text>
<line x1="419.20" y1="484.70" x2="421.80" y2="484.70" stroke="#222" stroke-width="1.1" />
<text x="417.30" y="489.80" font-size="10.5" text-anchor="end" font-weight="normal" font-style="normal" fill="#333" >30</text>
<line x1="576.00" y1="745.40" x2="578.60" y2="745.40" stroke="#222" stroke-width="1.1" />
<text x="579.80" y="750.50" font-size="10.5" text-anchor="start" font-weight="normal" font-style="normal" fill="#333" >0</text>
<line x1="576.00" y1="693.25" x2="578.60" y2="693.25" stroke="#222" stroke-width="1.1" />
<text x="579.80" y="698.35" font-size="10.5" text-anchor="start" font-weight="normal" font-style="normal" fill="#333" >5</text>
<line x1="576.00" y1="641.10" x2="578.60" y2="641.10" stroke="#222" stroke-width="1.1" />
<text x="579.80" y="646.20" font-size="10.5" text-anchor="start" font-weight="normal" font-style="normal" fill="#333" >10</text>
<line x1="576.00" y1="588.95" x2="578.60" y2="588.95" stroke="#222" stroke-width="1.1" />
<text x="579.80" y="594.05" font-size="10.5" text-anchor="start" font-weight="normal" font-style="normal" fill="#333" >15</text>
<line x1="576.00" y1="536.80" x2="578.60" y2="536.80" stroke="#222" stroke-width="1.1" />
<text x="579.80" y="541.90" font-size="10.5" text-anchor="start" font-weight="normal" font-style="normal" fill="#333" >20</text>
<line x1="576.00" y1="484.65" x2="578.60" y2="484.65" stroke="#222" stroke-width="1.1" />
<text x="579.80" y="489.75" font-size="10.5" text-anchor="start" font-weight="normal" font-style="normal" fill="#333" >25</text>
<line x1="463.90" y1="757.90" x2="463.90" y2="760.50" stroke="#222" stroke-width="1.1" />
<line x1="534.20" y1="757.90" x2="534.20" y2="760.50" stroke="#222" stroke-width="1.1" />
<text x="464.60" y="781.40" font-size="12" text-anchor="middle" font-weight="normal" font-style="normal" fill="#111" >WT</text>
<text x="532.10" y="781.40" font-size="12" text-anchor="middle" fill="#111"><tspan font-style="italic">Fmr1</tspan> KO</text>
<text x="0" y="0" transform="translate(402.30,622.50) rotate(-90)" font-size="13.5" text-anchor="middle" fill="#111">Total sniffing duration (s)</text>
<text x="0" y="0" transform="translate(594.50,623.00) rotate(90)" font-size="13.5" text-anchor="middle" fill="#111">Relative sniffing duration (%)</text>
<rect x="622.10" y="470.40" width="13.90" height="14.80" fill="#e8e8e8" stroke="#333" stroke-width="0.9"/>
<text x="641.60" y="482.20" font-size="12" text-anchor="start" font-weight="normal" font-style="normal" fill="#111" >Water</text>
<rect x="622.10" y="493.40" width="13.90" height="14.80" fill="#8b3a3a" stroke="#333" stroke-width="0.9"/>
<text x="641.60" y="505.20" font-size="12" text-anchor="start" font-weight="normal" font-style="normal" fill="#111" >Banana</text>
<rect x="622.10" y="515.10" width="13.90" height="14.80" fill="#e6a005" stroke="#333" stroke-width="0.9"/>
<text x="641.60" y="526.90" font-size="12" text-anchor="start" font-weight="normal" font-style="normal" fill="#111" >Vanilla</text>
</svg></body></html>
